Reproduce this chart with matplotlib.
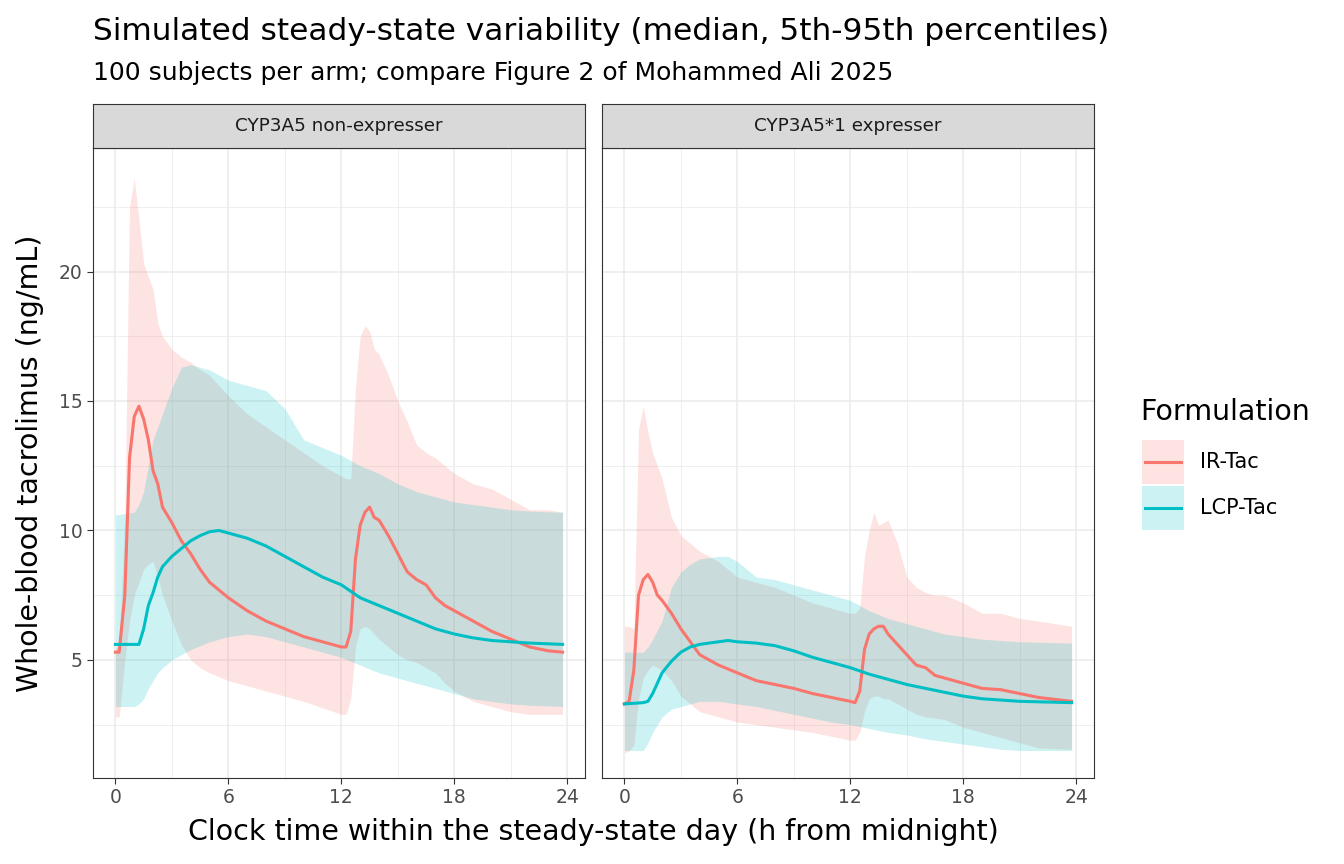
import numpy as np
import matplotlib.pyplot as plt
from matplotlib.patches import Rectangle

IR_COL = "#F8766D"
LCP_COL = "#00BFC4"

# ---- data: (time h, value ng/mL) -------------------------------------
# CYP3A5 non-expresser
nx_ir_t = [0, 0.2, 0.5, 0.75, 1.0, 1.25, 1.5, 1.75, 2, 2.25, 2.5, 3, 3.5, 4, 4.5, 5, 6, 7, 8, 9, 10, 11, 12,
           12.25, 12.5, 12.75, 13, 13.25, 13.5, 13.75, 14, 14.5, 15, 15.5, 16, 16.5, 17, 17.5, 18, 19, 20, 21, 22, 23, 23.75]
nx_ir_med = [5.3, 5.3, 7.5, 12.8, 14.4, 14.8, 14.3, 13.5, 12.3, 11.8, 10.9, 10.3, 9.6, 9.1, 8.5, 8.0, 7.4, 6.9, 6.5,
             6.2, 5.9, 5.7, 5.5, 5.5, 6.1, 8.9, 10.2, 10.7, 10.9, 10.5, 10.4, 9.8, 9.1, 8.4, 8.1, 7.9, 7.4, 7.1, 6.9,
             6.5, 6.1, 5.8, 5.5, 5.35, 5.3]
nx_ir_hi = [5.4, 5.6, 10.5, 22.5, 23.6, 22.0, 20.3, 19.8, 19.3, 18.0, 17.5, 17.0, 16.7, 16.5, 16.2, 16.0, 15.2, 14.5,
            14.0, 13.5, 13.0, 12.5, 12.1, 12.0, 12.0, 15.5, 17.5, 17.9, 17.7, 17.0, 16.8, 16.0, 15.0, 14.2, 13.3,
            13.0, 12.8, 12.5, 12.2, 11.8, 11.6, 11.2, 10.8, 10.8, 10.7]
nx_ir_lo = [2.8, 2.8, 5.0, 6.5, 7.5, 8.0, 8.5, 8.7, 8.8, 8.2, 7.5, 6.5, 5.6, 5.0, 4.7, 4.5, 4.2, 4.0, 3.8, 3.6, 3.4,
            3.15, 2.9, 2.9, 3.5, 5.5, 6.2, 6.3, 6.2, 6.0, 5.8, 5.5, 5.2, 5.0, 4.9, 4.7, 4.5, 4.1, 3.8, 3.4, 3.2,
            3.0, 2.9, 2.9, 2.9]

nx_lcp_t = [0, 1, 1.25, 1.5, 1.75, 2, 2.25, 2.5, 3, 3.5, 4, 4.5, 5, 5.5, 6, 7, 8, 9, 10, 11, 12, 13, 14, 15, 16,
            17, 18, 19, 20, 21, 22, 23.75]
nx_lcp_med = [5.6, 5.6, 5.6, 6.2, 7.1, 7.6, 8.2, 8.6, 9.0, 9.3, 9.6, 9.8, 9.95, 10.0, 9.9, 9.7, 9.4, 9.0, 8.6, 8.2,
              7.9, 7.4, 7.1, 6.8, 6.5, 6.2, 6.0, 5.85, 5.75, 5.7, 5.65, 5.6]
nx_lcp_hi = [10.6, 10.7, 11.0, 11.5, 12.5, 13.5, 14.0, 14.5, 15.5, 16.3, 16.4, 16.3, 16.2, 16.0, 15.8, 15.6, 15.4,
             14.7, 13.5, 13.2, 12.9, 12.5, 12.2, 11.8, 11.5, 11.3, 11.1, 11.0, 10.9, 10.8, 10.75, 10.7]
nx_lcp_lo = [3.2, 3.2, 3.3, 3.5, 3.9, 4.2, 4.5, 4.7, 5.0, 5.2, 5.4, 5.55, 5.7, 5.8, 5.9, 6.0, 5.9, 5.7, 5.5, 5.3,
             5.1, 4.8, 4.5, 4.3, 4.1, 3.9, 3.7, 3.5, 3.4, 3.3, 3.25, 3.2]

# CYP3A5*1 expresser
ex_ir_t = [0, 0.25, 0.5, 0.75, 1.0, 1.25, 1.5, 1.75, 2, 2.5, 3, 3.5, 4, 4.5, 5, 6, 7, 8, 9, 10, 11, 12, 12.25,
           12.5, 12.75, 13, 13.25, 13.5, 13.75, 14, 14.5, 15, 15.5, 16, 16.5, 17, 18, 19, 20, 21, 22, 23.75]
ex_ir_med = [3.3, 3.4, 4.6, 7.5, 8.1, 8.3, 8.0, 7.5, 7.3, 6.8, 6.2, 5.7, 5.2, 5.0, 4.8, 4.5, 4.2, 4.05, 3.9, 3.7,
             3.55, 3.4, 3.35, 3.8, 5.4, 6.0, 6.2, 6.3, 6.3, 6.0, 5.6, 5.2, 4.8, 4.7, 4.4, 4.3, 4.1, 3.9, 3.85,
             3.7, 3.55, 3.4]
ex_ir_hi = [6.3, 6.3, 6.2, 13.9, 14.8, 13.8, 13.0, 12.5, 12.0, 10.5, 9.8, 9.5, 9.2, 9.0, 8.8, 8.2, 8.0, 7.8, 7.5,
            7.2, 7.0, 6.8, 6.8, 7.0, 9.0, 10.0, 10.7, 10.2, 10.3, 10.4, 9.5, 8.2, 7.8, 7.6, 7.5, 7.5, 7.2, 6.8,
            6.8, 6.6, 6.5, 6.3]
ex_ir_lo = [1.4, 1.5, 1.7, 3.5, 4.3, 4.6, 4.8, 4.7, 4.6, 4.2, 3.6, 3.3, 3.0, 2.9, 2.8, 2.6, 2.5, 2.4, 2.3, 2.2,
            2.05, 1.9, 1.9, 2.2, 3.0, 3.5, 3.6, 3.6, 3.5, 3.5, 3.3, 3.1, 2.9, 2.8, 2.75, 2.7, 2.4, 2.2, 2.0,
            1.8, 1.6, 1.55]

ex_lcp_t = [0, 1, 1.25, 1.5, 2, 2.5, 3, 3.5, 4, 5, 5.5, 6, 7, 8, 9, 10, 11, 12, 13, 14, 15, 16, 17, 18, 19, 20,
            21, 23.75]
ex_lcp_med = [3.3, 3.35, 3.4, 3.7, 4.5, 4.95, 5.3, 5.5, 5.6, 5.7, 5.75, 5.7, 5.65, 5.55, 5.35, 5.1, 4.9, 4.7,
              4.45, 4.25, 4.05, 3.9, 3.75, 3.6, 3.5, 3.45, 3.4, 3.35]
ex_lcp_hi = [5.3, 5.3, 5.5, 5.8, 6.5, 7.8, 8.4, 8.7, 8.9, 9.0, 9.0, 8.8, 8.2, 8.1, 7.9, 7.7, 7.5, 7.3, 6.9, 6.6,
             6.4, 6.2, 6.0, 5.9, 5.8, 5.75, 5.7, 5.65]
ex_lcp_lo = [1.5, 1.5, 1.8, 2.2, 2.8, 3.1, 3.2, 3.3, 3.4, 3.4, 3.35, 3.3, 3.2, 3.05, 2.9, 2.75, 2.6, 2.5, 2.35,
             2.2, 2.1, 1.95, 1.85, 1.75, 1.65, 1.55, 1.5, 1.5]

panels = [
    ("CYP3A5 non-expresser", (nx_ir_t, nx_ir_med, nx_ir_lo, nx_ir_hi), (nx_lcp_t, nx_lcp_med, nx_lcp_lo, nx_lcp_hi)),
    ("CYP3A5*1 expresser", (ex_ir_t, ex_ir_med, ex_ir_lo, ex_ir_hi), (ex_lcp_t, ex_lcp_med, ex_lcp_lo, ex_lcp_hi)),
]

W, H = 1344, 864
fig = plt.figure(figsize=(W / 100, H / 100), dpi=100)

def fx(px):
    return px / W

def fy(py):
    return 1 - py / H

lefts = [93, 602]
pw = 492
ptop, pbot, stop = 148, 778, 104

for i, (name, ir, lcp) in enumerate(panels):
    x0 = lefts[i]
    ax = fig.add_axes([fx(x0), fy(pbot), fx(pw), (pbot - ptop) / H])
    for (t, med, lo, hi), col in [(ir, IR_COL), (lcp, LCP_COL)]:
        ax.fill_between(t, lo, hi, color=col, alpha=0.2, lw=0)
    for (t, med, lo, hi), col in [(ir, IR_COL), (lcp, LCP_COL)]:
        ax.plot(t, med, color=col, lw=2.2)
    ax.set_xlim(-1.19, 24.94)
    ax.set_ylim(0.44, 24.77)
    ax.set_xticks([0, 6, 12, 18, 24])
    ax.set_xticks([3, 9, 15, 21], minor=True)
    ax.set_yticks([5, 10, 15, 20])
    ax.set_yticks([2.5, 7.5, 12.5, 17.5, 22.5], minor=True)
    ax.grid(which="major", color="#EBEBEB", lw=1.1)
    ax.grid(which="minor", color="#EBEBEB", lw=0.55)
    ax.set_axisbelow(True)
    for s in ax.spines.values():
        s.set_color("#333333")
        s.set_linewidth(0.8)
    ax.tick_params(which="major", length=4, color="#333333", labelsize=13.5, labelcolor="#4D4D4D")
    ax.tick_params(which="minor", length=0)
    if i == 1:
        ax.tick_params(axis="y", which="both", length=0, labelleft=False)
    # facet strip
    sax = fig.add_axes([fx(x0), fy(ptop), fx(pw), (ptop - stop) / H])
    sax.set_xticks([]); sax.set_yticks([])
    sax.set_facecolor("#D9D9D9")
    for s in sax.spines.values():
        s.set_color("#333333")
        s.set_linewidth(0.8)
    sax.text(0.5, 0.5, name, ha="center", va="center", fontsize=13.2, color="#1A1A1A", transform=sax.transAxes)

fig.text(fx(93), fy(32), "Simulated steady-state variability (median, 5th-95th percentiles)",
         fontsize=22.5, va="center", ha="left")
fig.text(fx(93), fy(73), "100 subjects per arm; compare Figure 2 of Mohammed Ali 2025",
         fontsize=18, va="center", ha="left")
fig.text(fx(593), fy(832), "Clock time within the steady-state day (h from midnight)",
         fontsize=20.5, va="center", ha="center")
fig.text(fx(30), fy(463), "Whole-blood tacrolimus (ng/mL)", fontsize=20.5, va="center", ha="center",
         rotation=90)

# legend
fig.text(fx(1140), fy(412), "Formulation", fontsize=20.5, va="center", ha="left")
for j, (lab, col) in enumerate([("IR-Tac", IR_COL), ("LCP-Tac", LCP_COL)]):
    yc = 462 + 46 * j
    fig.patches.append(Rectangle((fx(1142), fy(yc + 22)), fx(42), 44 / H, transform=fig.transFigure,
                                 facecolor=col, alpha=0.2, lw=0))
    fig.lines.append(plt.Line2D([fx(1145), fx(1181)], [fy(yc), fy(yc)], transform=fig.transFigure,
                                color=col, lw=2.2))
    fig.text(fx(1200), fy(yc), lab, fontsize=15, va="center", ha="left")

fig.savefig("out.png", dpi=100)
